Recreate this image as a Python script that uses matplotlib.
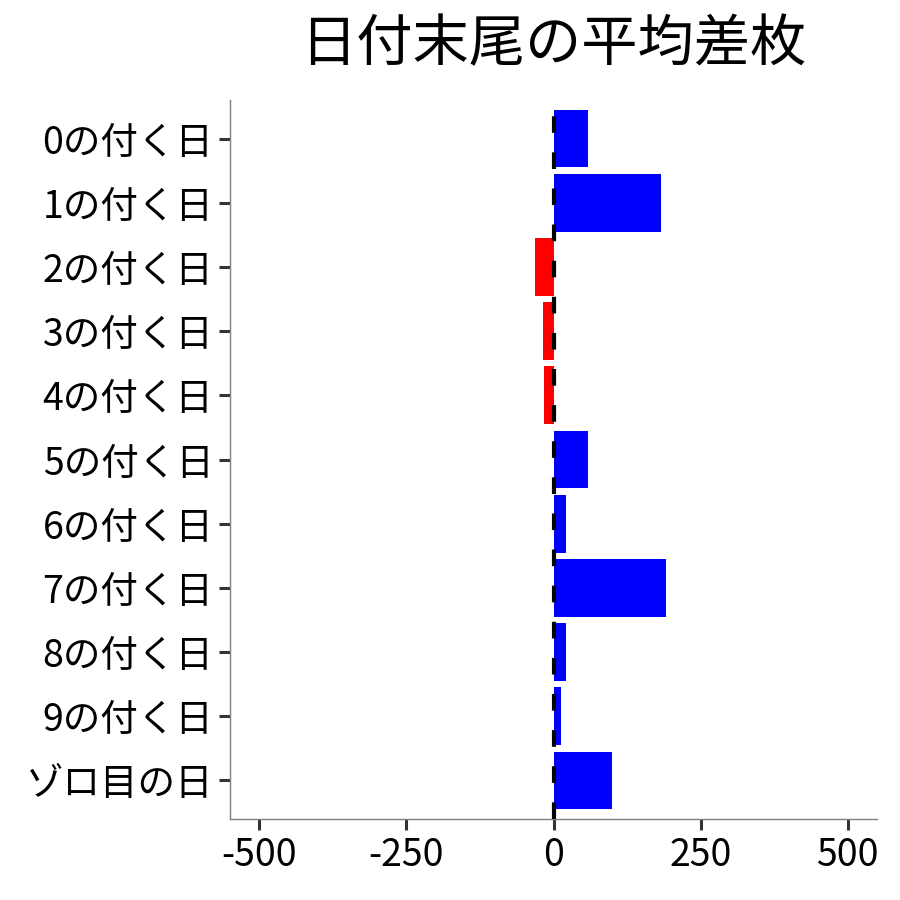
import numpy as np
import matplotlib
matplotlib.use('Agg')
import matplotlib.pyplot as plt

plt.rcParams['font.family'] = ['Noto Sans CJK JP', 'DejaVu Sans']
plt.rcParams['lines.scale_dashes'] = False

# data
labels = ['0の付く日', '1の付く日', '2の付く日', '3の付く日', '4の付く日',
          '5の付く日', '6の付く日', '7の付く日', '8の付く日', '9の付く日', 'ゾロ目の日']
values = [58, 182, -32, -18, -16, 58, 22, 192, 22, 13, 100]
title = '日付末尾の平均差枚'
xticks = [-500, -250, 0, 250, 500]

fig = plt.figure(figsize=(9, 9), dpi=100)
ax = fig.add_axes([230/900, 1-819/900, (877-230)/900, (819-100)/900])

pos = np.arange(len(labels))[::-1]
colors = ['blue' if v >= 0 else 'red' for v in values]
ax.barh(pos, values, height=0.9, color=colors, zorder=2)
ax.axvline(0, color='black', linewidth=3.0, linestyle=(0, (12, 14)), zorder=3)

ax.set_xlim(-550, 550)
ax.set_ylim(-0.6, len(labels) - 0.4)
ax.set_yticks(pos)
ax.set_yticklabels(labels)
ax.set_xticks(xticks)
ax.set_xticklabels([str(t) for t in xticks])

for s in ['top', 'right']:
    ax.spines[s].set_visible(False)
for s in ['left', 'bottom']:
    ax.spines[s].set_color('#7f7f7f')
    ax.spines[s].set_linewidth(1.0)
ax.tick_params(axis='both', labelsize=27, colors='#333333', labelcolor='black',
               length=8, width=2.2, pad=4)

fig.text(553/900, 1-45/900, title, fontsize=40.5, ha='center', va='center')

fig.savefig('out.png', dpi=100)
